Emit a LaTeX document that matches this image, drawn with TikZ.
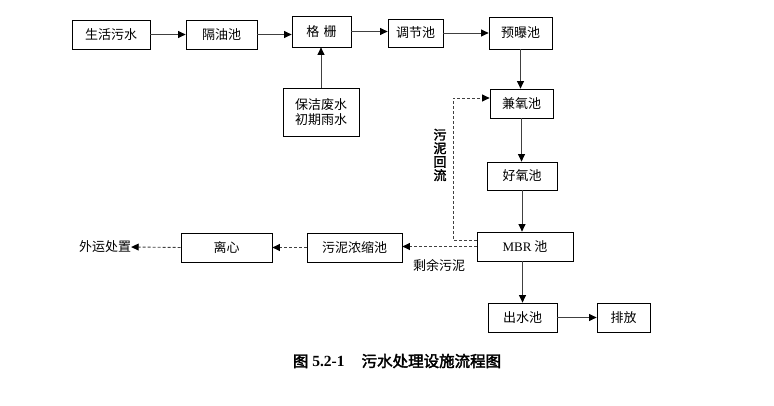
\documentclass[tikz,border=0pt]{standalone}
\usepackage{fontspec}
\setmainfont{Liberation Serif}
\newfontfamily\cjk[AutoFakeBold=2.5]{Noto Sans CJK SC}
\usetikzlibrary{arrows.meta}
\tikzset{
  box/.style={draw, line width=0.8pt, minimum width=#1, minimum height=29pt, inner sep=0pt, font=\cjk\fontsize{13}{15}\selectfont},
  box/.default=70pt,
  flow/.style={draw=black!75, line width=0.9pt, -{Triangle[length=7.5pt,width=7pt,color=black]}},
  flowd/.style={flow, dashed, dash pattern=on 3pt off 2pt},
  lbl/.style={inner sep=0pt, font=\cjk\fontsize{13}{15}\selectfont}
}
\begin{document}
\begin{tikzpicture}[x=1pt, y=-1pt]
  \useasboundingbox (0,0) rectangle (774,406);
  \draw
    (111,34.5) node[box=78pt] (shws){生活污水}
    (221.5,34.5) node[box=71pt] (gyc){隔油池}
    (321.5,31.5) node[box=59pt, minimum height=31pt] (gs){格\,\,栅}
    (321,112) node[box=76pt, minimum height=48pt, align=center] (bjfs){保洁废水\\初期雨水}
    (415.5,33) node[box=55pt, minimum height=28pt] (tjc){调节池}
    (520.5,33) node[box=63pt, minimum height=32pt] (ypc){预曝池}
    (521.5,103.5) node[box=63pt] (jyc){兼氧池}
    (522,176) node[box=70pt, minimum height=28pt] (hyc){好氧池}
    (525,246.5) node[box=96pt] (mbr){{\rmfamily MBR} 池}
    (522.5,317.5) node[box=69pt] (csc){出水池}
    (623.5,317.5) node[box=53pt] (pf){排放}
    (354.5,247.5) node[box=95pt] (wnns){污泥浓缩池}
    (226.5,247.5) node[box=91pt] (lx){离心}
    (105,247) node[lbl] (wycz){外运处置}
    (439,266) node[lbl] (sywn){剩余污泥}
    (440,155) node[lbl, align=center, font=\cjk\bfseries\fontsize{13}{13.5}\selectfont] (wnhl){污\\泥\\回\\流}
    (397,361) node[inner sep=0pt, font=\bfseries\fontsize{15.5}{18}\selectfont] (title){{\cjk 图} 5.2-1\hspace{1.1em}{\cjk 污水处理设施流程图}};
  \begin{scope}
    \draw[flow] (shws.east) -- (shws.east -| gyc.west);
    \draw[flow] (gyc.east) -- (gyc.east -| gs.west);
    \draw[flow] (gs.east) -- (gs.east -| tjc.west);
    \draw[flow] (tjc.east) -- (tjc.east -| ypc.west);
    \draw[flow] (bjfs.north) -- (bjfs.north |- gs.south);
    \draw[flow] (ypc.south) -- (ypc.south |- jyc.north);
    \draw[flow] (jyc.south) -- (jyc.south |- hyc.north);
    \draw[flow] (hyc.south) -- (hyc.south |- mbr.north);
    \draw[flow] (mbr.south -| csc.north) -- (csc.north);
    \draw[flow] (csc.east) -- (csc.east -| pf.west);
    \draw[flowd] ([yshift=6.5pt]mbr.west) -| (453,98) -- (jyc.west |- 0,98);
    \draw[flowd] (mbr.west) -- (mbr.west -| wnns.east);
    \draw[flowd] (wnns.west) -- (wnns.west -| lx.east);
    \draw[flowd] (lx.west) -- (wycz.east);
  \end{scope}
\end{tikzpicture}
\end{document}
